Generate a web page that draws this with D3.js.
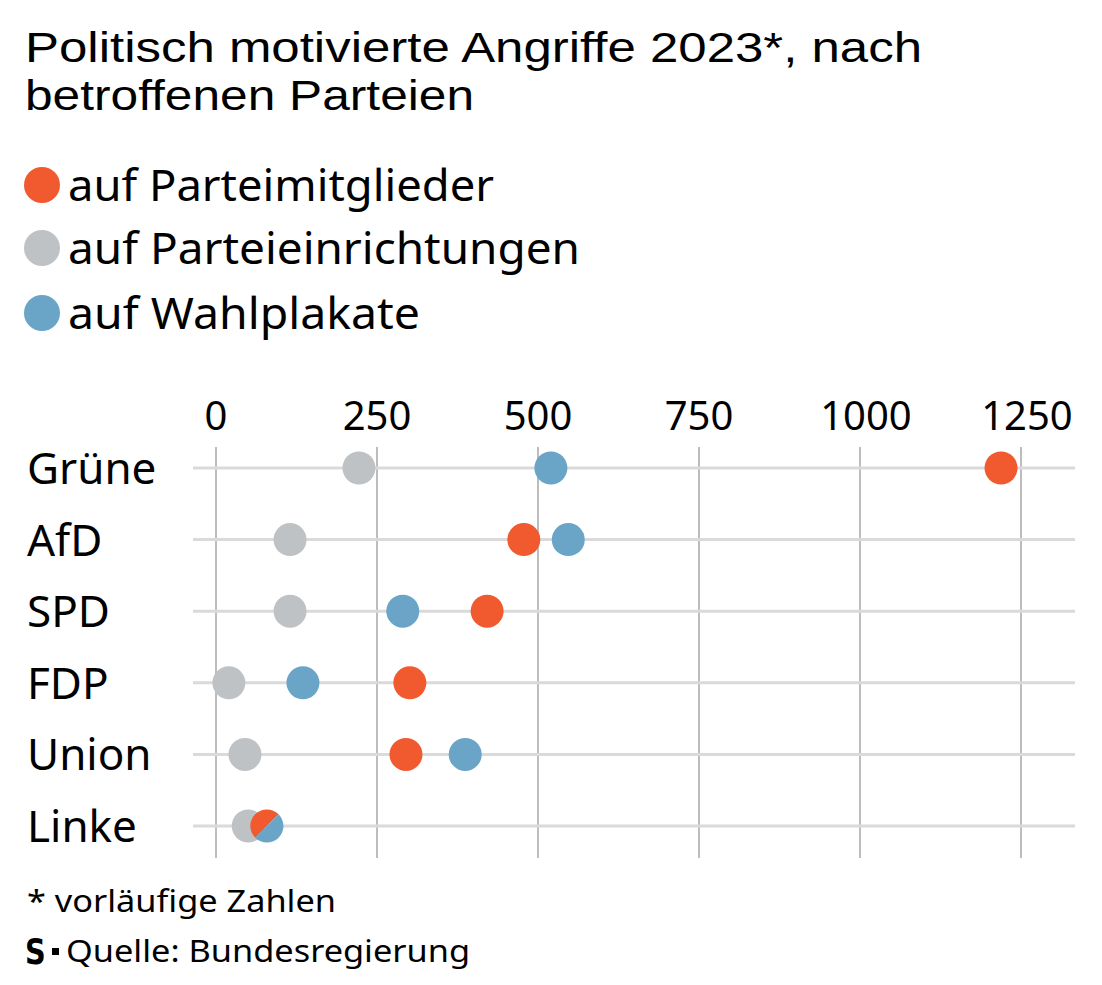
<!DOCTYPE html>
<html>
<head>
<meta charset="utf-8">
<script src="https://cdn.jsdelivr.net/npm/d3@7"></script>
<style>
  body { margin: 0; background: #fff; }
  svg { display: block; font-family: "Noto Sans", "Open Sans", sans-serif; }
</style>
</head>
<body>
<div id="chart"></div>
<script>
// data
var parties = ['Grüne', 'AfD', 'SPD', 'FDP', 'Union', 'Linke'];
var mitglieder = [1219, 478, 421, 301, 295, 79];
var einrichtungen = [222, 115, 115, 20, 45, 50];
var wahlplakate = [520, 547, 290, 135, 387, 79];
var ticks = [0, 250, 500, 750, 1000, 1250];

var seriesNames = ['auf Parteimitglieder', 'auf Parteieinrichtungen', 'auf Wahlplakate'];
var colors = ['#F15A2F', '#BEC2C4', '#6AA4C7'];

var width = 1102, height = 985;
var r = 16.5;

var svg = d3.select('#chart').append('svg')
    .attr('width', width)
    .attr('height', height);

// squeeze text to the width it has in the reference (condensed face)
function fit(sel, w) {
    sel.attr('textLength', w).attr('lengthAdjust', 'spacingAndGlyphs');
    return sel;
}

// title - tight leading, so a face with small ascent/descent
var title = svg.append('g')
    .attr('font-family', '"Liberation Sans Narrow", "Liberation Sans", sans-serif')
    .attr('font-size', 43);
fit(title.append('text').attr('x', 25).attr('y', 62)
    .text('Politisch motivierte Angriffe 2023*, nach'), 897);
fit(title.append('text').attr('x', 25).attr('y', 110)
    .text('betroffenen Parteien'), 449);

// legend
var legendY = [185, 248, 313];
var legendW = [426, 512, 352];
var legend = svg.append('g');
seriesNames.forEach(function (name, i) {
    legend.append('circle')
        .attr('cx', 42).attr('cy', legendY[i]).attr('r', 18)
        .attr('fill', colors[i]);
    fit(legend.append('text')
        .attr('x', 68).attr('y', legendY[i] + 16)
        .attr('font-size', 44)
        .text(name), legendW[i]);
});

var x = d3.scaleLinear().domain([0, 1250]).range([216, 1021]);
var y = d3.scalePoint().domain(parties).range([468, 826]);

var g = svg.append('g');

// vertical grid + tick labels
g.append('g').selectAll('line').data(ticks).enter()
    .append('line')
    .attr('x1', d => x(d)).attr('x2', d => x(d))
    .attr('y1', 447).attr('y2', 858)
    .attr('stroke', '#BDBDBD').attr('stroke-width', 2);

g.append('g').selectAll('text').data(ticks).enter()
    .append('text')
    .attr('x', d => x(d) + (d >= 1000 ? 6 : 0))
    .attr('y', 430)
    .attr('text-anchor', 'middle')
    .attr('font-size', 40)
    .text(d => d);

// horizontal row lines
g.append('g').selectAll('line').data(parties).enter()
    .append('line')
    .attr('x1', 193).attr('x2', 1075)
    .attr('y1', d => y(d)).attr('y2', d => y(d))
    .attr('stroke', '#DADADA').attr('stroke-width', 3);

// row labels
g.append('g').selectAll('text').data(parties).enter()
    .append('text')
    .attr('x', 27)
    .attr('y', d => y(d) + 16)
    .attr('font-size', 44)
    .text(d => d);

// dots: grey first so it sits behind
var rows = parties.map((p, i) => ({
    party: p, m: mitglieder[i], e: einrichtungen[i], w: wahlplakate[i]
}));

var dots = g.append('g');
rows.forEach(function (d) {
    var cy = y(d.party);
    dots.append('circle').attr('cx', x(d.e)).attr('cy', cy).attr('r', r).attr('fill', colors[1]);
    if (d.m === d.w) {
        // same value: split the dot diagonally
        var arc = d3.arc().innerRadius(0).outerRadius(r);
        dots.append('path')
            .attr('transform', 'translate(' + x(d.m) + ',' + cy + ')')
            .attr('d', arc({ startAngle: -3 * Math.PI / 4, endAngle: Math.PI / 4 }))
            .attr('fill', colors[0]);
        dots.append('path')
            .attr('transform', 'translate(' + x(d.w) + ',' + cy + ')')
            .attr('d', arc({ startAngle: Math.PI / 4, endAngle: 5 * Math.PI / 4 }))
            .attr('fill', colors[2]);
    } else {
        dots.append('circle').attr('cx', x(d.m)).attr('cy', cy).attr('r', r).attr('fill', colors[0]);
        dots.append('circle').attr('cx', x(d.w)).attr('cy', cy).attr('r', r).attr('fill', colors[2]);
    }
});

// footer
fit(svg.append('text').attr('x', 27).attr('y', 912).attr('font-size', 31)
    .text('* vorläufige Zahlen'), 309);

svg.append('text').attr('x', 25).attr('y', 964)
    .attr('font-family', '"DejaVu Sans", sans-serif')
    .attr('font-weight', 'bold')
    .attr('font-size', 36)
    .attr('transform', 'translate(25,964) scale(0.8,1) translate(-25,-964)')
    .text('S');
svg.append('rect').attr('x', 52).attr('y', 948).attr('width', 7).attr('height', 7).attr('fill', '#000');
fit(svg.append('text').attr('x', 66).attr('y', 962).attr('font-size', 31)
    .text('Quelle: Bundesregierung'), 404);
</script>
</body>
</html>
